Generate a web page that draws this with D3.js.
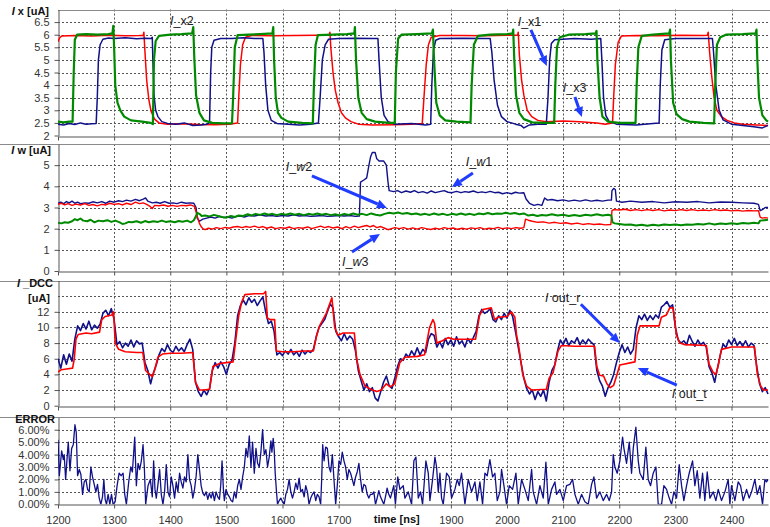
<!DOCTYPE html>
<html>
<head>
<meta charset="utf-8">
<script src="https://cdn.jsdelivr.net/npm/d3@7"></script>
<style>
  body { margin: 0; background: #fff; }
  text { font-family: "Liberation Sans", Arial, sans-serif; }
</style>
</head>
<body>
<svg id="chart" width="770" height="527"></svg>
<script>
// ---------- data ----------
const timeTicks = [1200, 1300, 1400, 1500, 1600, 1700, 1800, 1900, 2000, 2100, 2200, 2300, 2400];
const ixTicks = [2, 2.5, 3, 3.5, 4, 4.5, 5, 5.5, 6, 6.5];
const iwTicks = [0, 1, 2, 3, 4, 5];
const dccTicks = [0, 2, 4, 6, 8, 10, 12];
const errTicks = [0, 1, 2, 3, 4, 5, 6];
const ixGrid = [2.5, 3, 3.5, 4, 4.5, 5, 5.5, 6, 6.5];
const iwGrid = [1, 2, 3, 4, 5];
const dccGrid = [2, 4, 6, 8, 10, 12, 14];
const errGrid = [1, 2, 3, 4, 5, 6];

// I_x1 (ns, uA)
const ix1 = [[1200,2.45],[1210,2.42],[1220,2.48],[1230,2.44],[1240,2.5],[1250,2.45],[1260,2.47],[1268,2.48],[1270,3.5],[1272,5.0],[1275,5.6],[1280,5.82],[1290,5.87],[1300,5.85],[1320,5.88],[1340,5.84],[1355,5.86],[1366,5.85],[1368,5.9],[1369,5.0],[1371,3.6],[1374,3.0],[1378,2.75],[1385,2.55],[1395,2.48],[1410,2.45],[1425,2.5],[1440,2.4],[1455,2.42],[1465,2.45],[1470,2.5],[1472,4.5],[1474,5.5],[1478,5.78],[1490,5.85],[1510,5.85],[1530,5.88],[1550,5.85],[1565,5.85],[1567,5.3],[1570,4.0],[1574,3.0],[1580,2.6],[1590,2.48],[1610,2.45],[1630,2.42],[1650,2.45],[1664,2.5],[1667,3.5],[1671,5.0],[1676,5.6],[1682,5.82],[1700,5.85],[1730,5.86],[1760,5.85],[1770,5.85],[1772,5.0],[1776,3.5],[1781,2.8],[1788,2.55],[1800,2.45],[1830,2.48],[1855,2.42],[1864,2.45],[1866,4.0],[1869,5.4],[1873,5.78],[1880,5.85],[1920,5.86],[1960,5.85],[1970,5.85],[1973,5.3],[1977,4.2],[1983,3.2],[1990,2.75],[2000,2.55],[2008,2.5],[2015,2.45],[2025,2.4],[2030,2.3],[2040,2.42],[2055,2.45],[2070,2.45],[2073,3.5],[2076,5.0],[2079,5.65],[2085,5.8],[2120,5.85],[2150,5.82],[2167,5.85],[2169,5.0],[2172,3.5],[2176,2.8],[2182,2.55],[2195,2.45],[2230,2.42],[2260,2.48],[2271,2.5],[2273,4.0],[2276,5.4],[2281,5.8],[2300,5.85],[2340,5.85],[2366,5.85],[2368,5.3],[2372,4.0],[2378,3.0],[2385,2.62],[2400,2.45],[2420,2.4],[2440,2.35],[2455,2.3],[2465,2.4]];
// I_x2
const ix2 = [[1200,2.55],[1210,2.52],[1220,2.55],[1226,2.55],[1228,4.5],[1230,5.8],[1234,6.0],[1250,6.02],[1270,6.0],[1290,6.02],[1297,6.05],[1298.5,6.35],[1300,5.5],[1302,4.0],[1306,3.3],[1311,3.0],[1318,2.75],[1330,2.6],[1350,2.55],[1365,2.5],[1369,2.45],[1371,5.0],[1374,5.75],[1380,5.95],[1400,6.0],[1420,6.02],[1439,6.05],[1441,6.3],[1443,5.0],[1446,3.6],[1452,2.9],[1460,2.6],[1475,2.5],[1495,2.48],[1510,2.48],[1512,3.5],[1515,5.5],[1520,5.98],[1540,6.0],[1560,6.02],[1582,6.05],[1583.5,6.3],[1585,5.0],[1588,3.5],[1592,2.9],[1598,2.7],[1610,2.55],[1635,2.5],[1654,2.48],[1656,4.0],[1659,5.6],[1663,5.98],[1690,6.0],[1715,6.02],[1728,6.05],[1729,6.3],[1731,5.0],[1735,3.5],[1741,2.9],[1750,2.65],[1765,2.55],[1790,2.5],[1800,2.5],[1802,4.5],[1806,5.85],[1812,6.0],[1840,6.02],[1866,6.05],[1868,6.2],[1870,5.0],[1874,3.3],[1880,2.8],[1890,2.6],[1910,2.55],[1935,2.52],[1937,4.0],[1941,5.6],[1948,5.95],[1970,6.0],[2000,6.02],[2010,6.05],[2011,6.2],[2013,5.0],[2016,3.6],[2022,2.9],[2030,2.65],[2045,2.52],[2065,2.5],[2084,2.5],[2086,4.0],[2089,5.5],[2094,5.9],[2110,6.0],[2140,6.02],[2158,6.05],[2159.5,6.15],[2161,5.0],[2165,3.5],[2170,2.75],[2180,2.55],[2200,2.5],[2229,2.5],[2231,4.0],[2234,5.5],[2240,5.95],[2260,6.0],[2289,6.05],[2290.5,6.2],[2292,5.0],[2296,3.3],[2302,2.85],[2312,2.65],[2325,2.55],[2350,2.5],[2369,2.48],[2371,4.0],[2374,5.6],[2380,5.9],[2390,6.0],[2420,6.02],[2443,6.05],[2444.5,6.2],[2446,5.0],[2449,3.5],[2455,2.8],[2462,2.6],[2465,2.55]];
// I_x3
const ix3 = [[1200,5.72],[1203,5.88],[1207,5.95],[1230,5.97],[1260,5.95],[1290,5.98],[1320,5.96],[1345,5.97],[1352,5.98],[1353,6.1],[1355,5.3],[1358,4.2],[1362,3.4],[1366,2.95],[1372,2.65],[1380,2.5],[1395,2.45],[1420,2.47],[1450,2.44],[1480,2.43],[1505,2.45],[1520,2.5],[1522,3.5],[1525,4.8],[1529,5.6],[1534,5.9],[1545,5.97],[1580,5.96],[1620,5.97],[1660,5.98],[1683,5.98],[1684.5,6.1],[1686,5.5],[1690,4.5],[1694,3.8],[1699,3.3],[1705,2.9],[1712,2.7],[1722,2.55],[1735,2.45],[1760,2.42],[1800,2.43],[1830,2.45],[1849,2.48],[1852,3.5],[1856,4.8],[1860,5.6],[1865,5.9],[1880,5.97],[1920,5.97],[1960,5.96],[2000,5.98],[2019,5.98],[2020,6.1],[2022,5.2],[2026,4.2],[2030,3.6],[2036,3.0],[2044,2.75],[2055,2.6],[2070,2.55],[2100,2.58],[2130,2.55],[2160,2.5],[2175,2.45],[2188,2.5],[2190,3.5],[2193,4.8],[2198,5.7],[2204,5.95],[2230,5.97],[2270,5.96],[2310,5.98],[2350,5.97],[2357,5.98],[2358.5,6.1],[2361,5.3],[2365,4.3],[2369,3.5],[2374,3.0],[2382,2.75],[2392,2.6],[2405,2.5],[2420,2.45],[2445,2.42],[2465,2.4]];

// I_w1, I_w2, I_w3 (ns, uA)
const iw1 = [[1200,3.2],[1205,3.25],[1210,3.18],[1215,3.28],[1220,3.22],[1225,3.3],[1230,3.2],[1235,3.25],[1240,3.18],[1248,3.22],[1255,3.2],[1262,3.27],[1270,3.22],[1278,3.28],[1285,3.2],[1292,3.3],[1300,3.25],[1308,3.32],[1315,3.28],[1322,3.35],[1330,3.3],[1338,3.38],[1345,3.32],[1352,3.4],[1356,3.45],[1360,3.3],[1368,3.22],[1375,3.25],[1382,3.2],[1390,3.28],[1398,3.2],[1405,3.22],[1412,3.18],[1420,3.25],[1428,3.2],[1435,3.22],[1442,3.2],[1446,3.0],[1448,2.5],[1452,2.35],[1458,2.45],[1465,2.5],[1472,2.55],[1480,2.5],[1488,2.58],[1495,2.52],[1502,2.55],[1510,2.5],[1518,2.58],[1525,2.6],[1532,2.55],[1540,2.62],[1550,2.6],[1560,2.65],[1570,2.6],[1580,2.62],[1590,2.58],[1600,2.62],[1610,2.6],[1620,2.65],[1630,2.6],[1640,2.62],[1650,2.58],[1660,2.6],[1670,2.62],[1680,2.58],[1690,2.6],[1700,2.62],[1710,2.6],[1720,2.62],[1730,2.58],[1737,2.6],[1739,4.2],[1745,4.3],[1750,4.4],[1754,5.0],[1757,5.4],[1760,5.6],[1765,5.6],[1768,5.3],[1772,5.2],[1780,5.2],[1785,5.0],[1788,4.2],[1790,3.8],[1798,3.75],[1805,3.8],[1812,3.7],[1820,3.78],[1828,3.72],[1835,3.8],[1842,3.7],[1850,3.75],[1858,3.68],[1865,3.78],[1872,3.7],[1880,3.75],[1888,3.8],[1895,3.72],[1902,3.7],[1910,3.76],[1918,3.7],[1925,3.75],[1932,3.72],[1940,3.78],[1948,3.7],[1955,3.74],[1962,3.7],[1970,3.76],[1978,3.7],[1985,3.72],[1992,3.65],[2000,3.7],[2008,3.65],[2015,3.72],[2022,3.68],[2030,3.7],[2034,3.4],[2040,3.2],[2048,3.1],[2055,3.15],[2062,3.1],[2067,3.45],[2072,3.35],[2080,3.38],[2090,3.32],[2100,3.36],[2110,3.3],[2120,3.35],[2130,3.3],[2140,3.36],[2150,3.3],[2160,3.34],[2170,3.3],[2180,3.35],[2186,3.35],[2187,3.8],[2190,3.9],[2193,3.85],[2195,3.3],[2205,3.25],[2220,3.3],[2240,3.25],[2260,3.28],[2280,3.22],[2300,3.27],[2320,3.25],[2340,3.28],[2360,3.22],[2380,3.26],[2400,3.25],[2420,3.22],[2440,3.2],[2448,3.15],[2451,2.85],[2455,2.9],[2460,3.0],[2465,3.0]];
const iw2 = [[1200,2.28],[1206,2.25],[1212,2.3],[1218,2.28],[1225,2.35],[1230,2.45],[1235,2.4],[1240,2.48],[1245,2.38],[1252,2.35],[1258,2.42],[1265,2.3],[1272,2.38],[1280,2.35],[1288,2.4],[1295,2.32],[1302,2.38],[1310,2.3],[1315,2.22],[1320,2.25],[1326,2.32],[1332,2.3],[1340,2.35],[1348,2.28],[1355,2.36],[1362,2.3],[1370,2.35],[1378,2.32],[1385,2.38],[1392,2.32],[1400,2.35],[1408,2.3],[1415,2.36],[1422,2.33],[1430,2.38],[1437,2.3],[1442,2.4],[1445,2.55],[1448,2.75],[1452,2.7],[1456,2.6],[1462,2.62],[1470,2.58],[1478,2.65],[1485,2.6],[1492,2.55],[1500,2.52],[1508,2.6],[1515,2.55],[1522,2.62],[1530,2.6],[1538,2.68],[1545,2.62],[1552,2.7],[1560,2.65],[1568,2.72],[1575,2.66],[1582,2.7],[1590,2.64],[1598,2.7],[1606,2.66],[1614,2.72],[1622,2.66],[1630,2.7],[1638,2.64],[1646,2.7],[1654,2.66],[1662,2.72],[1670,2.66],[1678,2.7],[1686,2.64],[1694,2.68],[1702,2.62],[1710,2.7],[1718,2.65],[1726,2.72],[1734,2.66],[1742,2.7],[1750,2.64],[1758,2.72],[1766,2.66],[1774,2.62],[1782,2.7],[1790,2.75],[1798,2.72],[1806,2.76],[1814,2.7],[1822,2.74],[1830,2.68],[1838,2.72],[1846,2.66],[1854,2.7],[1862,2.65],[1870,2.72],[1878,2.66],[1886,2.7],[1894,2.64],[1902,2.7],[1910,2.66],[1918,2.72],[1926,2.66],[1934,2.7],[1942,2.65],[1950,2.72],[1958,2.68],[1966,2.74],[1974,2.68],[1982,2.72],[1990,2.7],[1998,2.75],[2006,2.7],[2014,2.74],[2022,2.68],[2030,2.72],[2038,2.62],[2046,2.66],[2054,2.6],[2062,2.65],[2070,2.62],[2080,2.68],[2090,2.62],[2100,2.66],[2110,2.6],[2120,2.65],[2130,2.6],[2140,2.66],[2150,2.62],[2160,2.68],[2170,2.62],[2180,2.66],[2186,2.62],[2188,2.3],[2192,2.25],[2200,2.22],[2210,2.18],[2220,2.2],[2230,2.15],[2240,2.18],[2250,2.14],[2260,2.18],[2270,2.15],[2280,2.2],[2290,2.17],[2300,2.2],[2310,2.16],[2320,2.2],[2330,2.18],[2340,2.22],[2350,2.2],[2360,2.25],[2370,2.2],[2380,2.24],[2390,2.22],[2400,2.26],[2410,2.22],[2420,2.27],[2430,2.24],[2440,2.28],[2448,2.25],[2451,2.38],[2458,2.4],[2465,2.42]];
const iw3 = [[1200,3.15],[1206,3.2],[1212,3.12],[1218,3.18],[1225,3.1],[1232,3.16],[1240,3.12],[1248,3.18],[1255,3.1],[1262,3.14],[1270,3.08],[1278,3.15],[1285,3.12],[1292,3.2],[1300,3.15],[1308,3.18],[1315,3.12],[1322,3.2],[1330,3.14],[1338,3.25],[1345,3.18],[1352,3.22],[1358,3.15],[1364,3.05],[1368,2.95],[1372,3.1],[1380,3.08],[1388,3.12],[1396,3.06],[1404,3.1],[1412,3.05],[1420,3.1],[1428,3.08],[1436,3.12],[1443,3.05],[1446,2.8],[1449,2.5],[1452,2.25],[1455,2.1],[1458,2.0],[1462,1.95],[1468,2.02],[1475,1.98],[1482,2.05],[1490,2.0],[1498,2.06],[1505,2.02],[1512,2.08],[1520,2.1],[1528,2.05],[1535,2.1],[1542,2.06],[1550,2.12],[1558,2.05],[1565,2.1],[1572,2.02],[1580,2.08],[1588,2.0],[1596,2.05],[1605,2.02],[1612,2.08],[1620,2.0],[1628,2.05],[1636,2.02],[1645,2.08],[1652,2.0],[1660,2.06],[1668,2.12],[1675,2.05],[1682,2.1],[1690,2.03],[1698,2.08],[1706,2.0],[1713,2.1],[1720,2.03],[1728,2.12],[1735,2.05],[1742,2.1],[1750,2.15],[1756,2.08],[1762,2.15],[1768,2.05],[1775,2.1],[1782,2.02],[1788,1.95],[1794,2.0],[1800,2.05],[1808,2.0],[1816,2.05],[1824,1.98],[1832,2.04],[1840,1.98],[1848,2.05],[1856,2.0],[1864,1.96],[1872,2.02],[1880,1.98],[1888,2.05],[1896,2.0],[1904,2.03],[1912,1.97],[1920,2.02],[1928,1.98],[1936,2.04],[1944,2.0],[1952,2.05],[1960,1.98],[1968,2.02],[1976,2.0],[1984,2.06],[1992,2.0],[2000,2.04],[2008,2.0],[2016,2.05],[2024,2.02],[2030,2.05],[2033,2.45],[2038,2.4],[2045,2.35],[2055,2.3],[2065,2.32],[2075,2.26],[2085,2.3],[2095,2.25],[2105,2.28],[2115,2.22],[2125,2.26],[2135,2.2],[2145,2.24],[2155,2.2],[2165,2.22],[2175,2.18],[2185,2.2],[2187,2.85],[2190,2.9],[2200,2.88],[2210,2.92],[2220,2.86],[2230,2.9],[2240,2.85],[2250,2.9],[2260,2.86],[2270,2.9],[2280,2.84],[2290,2.88],[2300,2.85],[2310,2.9],[2320,2.86],[2330,2.9],[2340,2.85],[2350,2.88],[2360,2.85],[2370,2.9],[2380,2.86],[2390,2.88],[2400,2.84],[2410,2.87],[2420,2.83],[2430,2.86],[2440,2.84],[2448,2.85],[2451,2.55],[2455,2.5],[2460,2.52],[2465,2.5]];

// I out_r, sampled every 5 ns from 1200 ns (uA)
const outRTimes = d3.range(1200, 2466, 5);
const outR = [
  6.0,4.8,6.5,5.3,6.6,5.7,8.5,10.2,9.6,10.5,9.8,10.8,9.7,10.3,9.9,10.4,11.8,12.2,11.5,12.4,
  11.0,7.8,8.2,7.4,8.0,7.6,8.4,7.5,8.3,7.9,8.0,5.5,4.5,2.8,4.2,5.2,6.5,7.3,6.9,7.8,
  7.1,6.8,7.6,7.0,7.4,6.9,7.8,8.5,7.2,3.0,1.8,1.2,2.0,1.4,2.2,4.5,5.5,4.8,5.6,5.0,
  4.0,5.3,5.8,8.0,11.5,12.8,13.5,12.9,13.8,13.2,13.6,12.8,13.4,13.9,12.0,10.5,10.8,9.5,6.5,6.8,
  6.4,7.0,6.6,7.2,6.5,6.9,6.3,7.1,6.6,7.0,6.8,7.2,8.8,10.0,10.5,11.0,12.0,13.0,12.5,9.5,
  8.8,8.3,9.2,8.4,8.9,8.5,7.0,4.5,3.2,2.0,2.8,1.8,2.3,1.0,0.6,1.8,3.0,3.8,2.6,2.2,
  3.5,5.0,6.0,5.8,6.6,6.2,7.0,6.4,7.4,6.5,7.2,6.8,8.5,9.2,9.0,7.5,8.2,7.4,8.6,7.8,
  8.4,7.6,8.8,7.9,8.3,7.5,8.6,8.0,8.7,9.5,11.5,12.3,11.8,12.0,12.4,11.0,10.7,11.5,11.0,11.8,
  11.2,12.2,11.4,9.5,7.5,5.5,3.5,2.2,1.5,2.0,0.8,1.8,1.2,2.0,0.6,3.0,4.5,5.2,7.0,8.4,
  7.8,8.6,7.7,8.3,8.0,8.7,7.8,8.4,7.9,8.5,8.1,7.8,4.5,3.2,2.5,1.2,2.3,3.0,4.0,5.5,
  6.8,7.8,6.8,7.5,6.6,7.2,10.0,11.5,11.0,11.7,10.9,11.5,11.0,11.6,11.2,12.6,12.9,13.3,12.6,12.9,
  10.0,8.4,8.0,8.3,7.8,9.0,8.2,7.6,8.4,7.8,8.1,7.5,5.0,4.2,3.0,4.8,6.5,7.9,7.4,8.4,
  7.8,8.6,7.7,8.2,7.6,8.3,7.5,8.0,7.7,5.0,2.8,1.8,2.3,1.5
];
// I out_t (ns, uA)
const outT = [[1200,4.3],[1206,4.6],[1215,4.7],[1226,4.8],[1229,6.0],[1232,8.5],[1236,9.1],[1250,9.3],[1260,9.2],[1274,9.4],[1278,11.0],[1284,11.4],[1296,11.6],[1299,12.0],[1302,8.0],[1308,7.2],[1320,6.9],[1340,6.8],[1351,6.8],[1356,4.5],[1362,4.1],[1368,3.7],[1372,4.5],[1378,6.2],[1386,6.6],[1400,6.7],[1420,6.7],[1440,6.8],[1445,3.0],[1452,2.0],[1460,2.0],[1470,2.1],[1476,5.0],[1488,5.4],[1500,5.5],[1512,5.6],[1516,8.0],[1522,11.5],[1527,13.2],[1533,14.2],[1550,14.3],[1566,14.3],[1570,14.6],[1573,11.2],[1578,11.0],[1586,11.0],[1589,7.0],[1600,6.9],[1620,6.9],[1640,7.0],[1655,7.0],[1661,9.0],[1666,10.2],[1678,11.8],[1685,13.2],[1688,13.8],[1693,10.0],[1699,9.0],[1708,9.3],[1728,9.3],[1732,6.0],[1738,4.0],[1747,2.5],[1760,2.0],[1768,1.8],[1776,2.0],[1785,2.8],[1792,2.4],[1800,2.8],[1809,5.5],[1818,6.2],[1840,6.3],[1853,6.5],[1862,10.0],[1868,11.0],[1871,10.5],[1875,8.0],[1885,8.3],[1895,8.7],[1905,8.5],[1944,8.5],[1951,11.5],[1957,12.3],[1972,12.5],[1978,11.0],[1984,11.3],[2000,11.4],[2008,12.0],[2014,11.3],[2017,9.0],[2020,8.0],[2024,6.0],[2028,4.0],[2035,2.5],[2044,2.0],[2070,2.1],[2075,3.5],[2082,4.2],[2091,7.0],[2097,7.7],[2120,7.6],[2156,7.6],[2160,5.0],[2165,3.9],[2172,3.8],[2178,2.8],[2184,2.3],[2190,2.6],[2196,4.0],[2201,5.2],[2228,5.6],[2232,9.0],[2237,10.2],[2271,10.2],[2275,11.3],[2284,11.6],[2290,12.5],[2296,12.5],[2302,9.0],[2308,8.0],[2317,7.8],[2355,7.7],[2360,5.3],[2367,4.3],[2372,4.0],[2376,5.0],[2382,7.2],[2400,7.5],[2441,7.5],[2446,4.0],[2452,2.5],[2457,2.0],[2465,2.0]];

// ERROR (ns, %)
const errData = [[1200,5.2],[1202.4,2.3],[1206.5,4.3],[1209.5,3.6],[1211,4.0],[1213.6,2.0],[1216.6,4.0],[1218.3,5.0],[1221.3,2.7],[1224.3,4.5],[1227.2,4.8],[1230.2,6.4],[1232.5,5.8],[1234.9,2.3],[1237.9,2.8],[1240.8,2.4],[1243.8,0.8],[1246.7,1.8],[1249.7,2.0],[1252.7,1.2],[1255.6,1.0],[1258.6,3.0],[1261.5,2.2],[1264.5,1.6],[1267.5,1.0],[1270.4,1.6],[1273.4,0.5],[1276.3,0],[1279.3,0.6],[1281.7,2.0],[1284,0.4],[1286.4,0],[1289.3,0.8],[1292.3,0],[1295.3,0.8],[1298.2,0],[1301.8,0.2],[1305.3,1.5],[1308.9,2.5],[1312.4,2.3],[1316,2.5],[1318.9,0.8],[1321.9,0],[1326,1.8],[1329.6,3.0],[1332.5,2.6],[1336.7,5.4],[1339.6,1.5],[1342.6,3.3],[1345.6,2.8],[1348.5,3.5],[1351.5,4.8],[1353.8,3.0],[1356.2,0],[1360.4,1.5],[1364.5,2.0],[1368,0.6],[1370.4,3.5],[1372.8,1.2],[1375.1,0.5],[1378.1,1.6],[1381.1,2.8],[1384,0.8],[1387,0],[1389.9,1.0],[1392.9,3.2],[1395.9,1.0],[1398.8,0.6],[1401.8,2.2],[1404.7,1.5],[1407.7,0.5],[1410.7,1.8],[1413.6,1.0],[1416.6,2.5],[1419.5,1.8],[1422.5,1.3],[1425.4,2.2],[1428.4,1.8],[1431.4,4.0],[1434.3,2.0],[1437.3,1.5],[1440.2,0.5],[1443.2,1.2],[1446.2,2.3],[1449.1,4.0],[1452.1,2.8],[1455,1.5],[1458,0.9],[1461,0.7],[1463.9,1.0],[1466.9,0.4],[1469.8,0.9],[1472.8,0.5],[1475.7,1.0],[1478.7,0.3],[1481.7,1.0],[1484.6,0.6],[1487.6,0.4],[1489.9,1.5],[1492.3,3.5],[1494.7,1.2],[1496.4,0.3],[1499.4,1.2],[1502.4,0.8],[1505.3,0.6],[1508.3,0.3],[1511.2,0.2],[1514.2,1.0],[1517.2,0.5],[1520.1,1.5],[1523.1,2.0],[1526,1.2],[1529,2.2],[1532,3.0],[1534.9,4.5],[1537.9,3.8],[1540.8,5.5],[1543.8,3.0],[1546.7,5.0],[1549.7,2.5],[1552.7,4.5],[1555.6,3.3],[1558.6,3.0],[1561.5,4.2],[1564.5,6.0],[1567.5,4.0],[1570.4,4.4],[1573.4,3.0],[1576.3,3.8],[1579.3,5.1],[1581.1,4.2],[1583.4,5.3],[1585.2,4.4],[1587,2.5],[1589.3,1.0],[1591.1,0],[1594.1,0.3],[1597,0.5],[1600,0.2],[1603,0],[1605.9,0.8],[1608.9,1.2],[1611.8,2.0],[1614.8,1.0],[1617.8,0.5],[1620.7,1.0],[1623.7,1.7],[1626.6,1.2],[1629.6,2.1],[1632.5,1.0],[1635.5,1.2],[1638.5,0.6],[1641.4,1.5],[1644.4,1.0],[1647.3,0],[1650.3,0.5],[1653.3,0.8],[1656.2,1.0],[1659.2,0.3],[1662.1,0.8],[1665.1,0.6],[1668,0],[1669.8,2.0],[1671.6,4.8],[1674,3.5],[1676.9,4.6],[1679.9,4.5],[1682.8,3.0],[1685.8,2.6],[1688.8,4.0],[1691.7,2.0],[1694.7,0],[1697.6,1.5],[1700.6,3.5],[1703.6,3.2],[1706.5,4.2],[1709.5,3.5],[1712.4,3.0],[1715.4,2.0],[1718.3,2.8],[1721.3,2.5],[1724.3,2.0],[1727.2,1.5],[1730.2,2.2],[1733.1,2.6],[1736.1,3.3],[1739.1,2.0],[1742,1.0],[1745,1.6],[1747.9,1.5],[1750.9,0.8],[1753.8,0.5],[1756.8,0.8],[1759.8,0.8],[1762.7,1.0],[1765.7,0],[1768.6,0.5],[1771.6,1.1],[1774.6,0.6],[1777.5,0.3],[1780.5,0],[1783.4,0.6],[1786.4,1.3],[1789.3,0.8],[1792.3,0.5],[1795.3,1.0],[1798.2,1.5],[1801.2,0],[1805.3,2.2],[1809.2,1.2],[1815.1,1.5],[1818.1,0.5],[1824,1.0],[1830,0],[1834.1,3.5],[1837.7,3.8],[1841.9,0.5],[1846,1.0],[1849.6,0],[1855.5,3.5],[1859.7,2.5],[1862.6,0.3],[1867.4,2.0],[1871.6,3.8],[1874.5,3.0],[1877.5,1.0],[1880.5,2.5],[1883.4,0.5],[1886.4,0],[1892.3,2.5],[1897.1,2.2],[1901.2,0.5],[1907.2,1.2],[1911.3,2.0],[1914.9,1.5],[1919,2.5],[1925,0],[1931,2.0],[1936.9,1.0],[1942.8,1.8],[1947,0.3],[1951.7,1.8],[1956.5,0],[1960.6,2.5],[1964.8,2.3],[1969.5,3.6],[1974.3,2.2],[1978.4,2.5],[1982.6,0.3],[1987.4,1.0],[1990.3,2.8],[1994.5,1.5],[1999.2,0],[2004,1.5],[2009.9,1.2],[2015.9,2.5],[2020,0],[2026,2.0],[2031.9,1.2],[2037.8,0.3],[2043.8,2.8],[2046.7,1.0],[2052.7,0],[2058.6,1.5],[2064.5,0.5],[2069.3,3.4],[2073.5,0],[2079.4,1.2],[2085.3,1.8],[2088.3,0.8],[2094.2,1.2],[2100.2,0.3],[2106.1,1.5],[2112,1.6],[2116.8,2.0],[2121,0.8],[2126.9,0],[2132.8,0.8],[2138.8,0.2],[2144.7,0],[2150.7,1.6],[2154.8,2.2],[2159.6,0.5],[2165.5,1.0],[2171.4,0.3],[2177.4,0.8],[2182.1,0.3],[2186.3,1.0],[2189.3,4.0],[2192.2,3.0],[2196.4,2.5],[2201.1,3.5],[2205.9,5.4],[2208.3,4.5],[2213,3.3],[2217.8,5.0],[2221.9,2.5],[2224.9,4.5],[2229.6,6.2],[2233.8,3.5],[2236.8,2.5],[2242.7,2.0],[2247.4,4.6],[2251.6,2.0],[2255.8,1.5],[2260.5,2.5],[2265.3,3.0],[2269.4,0],[2275.4,0],[2279.5,1.5],[2284.3,1.2],[2289,0.5],[2293.2,0],[2297.3,1.0],[2302.1,0.5],[2306.8,3.2],[2311,1.5],[2315.1,0.3],[2319.9,1.5],[2324.6,2.5],[2330.6,3.5],[2334.7,1.5],[2338.9,2.7],[2343.6,0.5],[2348.4,2.5],[2352.5,0.3],[2356.7,2.6],[2361.5,0.5],[2367.4,1.0],[2372.1,0.3],[2376.3,1.2],[2382.2,0.3],[2388.2,1.0],[2394.1,2.0],[2397.1,0],[2400,1.5],[2406,0.3],[2411.9,1.8],[2416.1,1.5],[2420.8,0.3],[2426.8,1.2],[2431.5,0.5],[2435.7,1.0],[2441.6,2.0],[2445.8,0.8],[2450.5,1.5],[2455.3,0],[2459.4,2.0],[2462.4,1.8],[2465,2.0]];

// ---------- layout ----------
const W = 770, H = 527;
const left = 58, right = 768;
const NAVY = "#10108a", RED = "#ff0000", GREEN = "#008a00", ARROW = "#1f3cff";
const GRID = "#555", FRAME = "#8a8a8a", AXIS = "#555";

const svg = d3.select("#chart");
const x = d3.scaleLinear().domain([1200, 2465]).range([left, right]);

const panels = [
  { id: "ix",  domain: [2, 7],  range: [135.5, 9.5],  ticks: ixTicks,  grid: ixGrid,  fmt: d => String(d), sepLeft: left },
  { id: "iw",  domain: [0, 6],  range: [271, 144],    ticks: iwTicks,  grid: iwGrid,  fmt: d => String(d), sepLeft: 0 },
  { id: "dcc", domain: [0, 16], range: [405.7, 280.5], ticks: dccTicks, grid: dccGrid, fmt: d => String(d), sepLeft: 0 },
  { id: "err", domain: [0, 7],  range: [504.3, 417.3], ticks: errTicks, grid: errGrid, fmt: d => d.toFixed(2) + "%", sepLeft: 0 }
];
panels.forEach(p => { p.y = d3.scaleLinear().domain(p.domain).range(p.range); });

const defs = svg.append("defs");

panels.forEach((p, i) => {
  const g = svg.append("g").attr("class", "panel-" + p.id);
  const yTop = p.range[1], yBot = p.range[0];

  defs.append("clipPath").attr("id", "clip-" + p.id)
    .append("rect").attr("x", left).attr("y", yTop - 2).attr("width", right - left + 2).attr("height", yBot - yTop + 2);

  // horizontal grid
  g.append("g").selectAll("line").data(p.grid).join("line")
    .attr("x1", left).attr("x2", right)
    .attr("y1", d => Math.round(p.y(d)) + 0.5).attr("y2", d => Math.round(p.y(d)) + 0.5)
    .attr("stroke", GRID).attr("stroke-width", 1).attr("stroke-dasharray", "2,2");

  // vertical grid
  g.append("g").selectAll("line").data(timeTicks.slice(1)).join("line")
    .attr("x1", d => Math.round(x(d)) + 0.5).attr("x2", d => Math.round(x(d)) + 0.5)
    .attr("y1", yTop).attr("y2", yBot)
    .attr("stroke", GRID).attr("stroke-width", 1).attr("stroke-dasharray", "2,2");

  // top frame line
  g.append("line").attr("x1", p.sepLeft).attr("x2", W)
    .attr("y1", Math.round(yTop) + 0.5).attr("y2", Math.round(yTop) + 0.5)
    .attr("stroke", FRAME).attr("stroke-width", 1.2);

  // y axis
  const ya = g.append("g").attr("transform", `translate(${left + 0.5},0)`)
    .call(d3.axisLeft(p.y).tickValues(p.ticks).tickSize(4).tickSizeOuter(0).tickPadding(5).tickFormat(p.fmt));
  ya.select(".domain").attr("stroke", AXIS);
  ya.selectAll(".tick line").attr("stroke", AXIS);
  ya.selectAll("text").attr("font-size", 11).attr("fill", "#333")
    .attr("font-family", "'Liberation Sans', Arial, sans-serif");

  // x axis (labels only on the bottom panel)
  const last = i === panels.length - 1;
  const xa = g.append("g").attr("transform", `translate(0,${Math.round(yBot) + 0.5})`)
    .call(d3.axisBottom(x).tickValues(timeTicks).tickSize(4).tickSizeOuter(0).tickPadding(8)
      .tickFormat(d => (last && d !== 1800) ? String(d) : ""));
  xa.select(".domain").attr("stroke", AXIS).attr("stroke-width", 1.1);
  xa.selectAll(".tick line").attr("stroke", AXIS);
  xa.selectAll("text").attr("font-size", 11).attr("fill", "#333")
    .attr("font-family", "'Liberation Sans', Arial, sans-serif");
});

// ---------- series ----------
function drawLine(panelId, data, color, width) {
  const p = panels.find(q => q.id === panelId);
  const line = d3.line().x(d => x(d[0])).y(d => p.y(d[1]));
  svg.append("path").datum(data)
    .attr("clip-path", `url(#clip-${panelId})`)
    .attr("d", line).attr("fill", "none")
    .attr("stroke", color).attr("stroke-width", width)
    .attr("stroke-linejoin", "round");
}

drawLine("ix", ix3, RED, 1.5);
drawLine("ix", ix1, NAVY, 1.5);
drawLine("ix", ix2, GREEN, 2.2);

drawLine("iw", iw1, NAVY, 1.4);
drawLine("iw", iw3, RED, 1.4);
drawLine("iw", iw2, GREEN, 2.0);

const outRPairs = outRTimes.map((t, k) => [t, outR[k]]).filter(d => d[1] !== undefined);
drawLine("dcc", outRPairs, NAVY, 1.6);
drawLine("dcc", outT, RED, 1.6);

drawLine("err", errData, NAVY, 1.3);

// ---------- axis titles ----------
function title(parts, xEnd, yBase, anchor) {
  const t = svg.append("text").attr("x", xEnd).attr("y", yBase)
    .attr("text-anchor", anchor || "end").attr("font-size", 11).attr("font-weight", "bold").attr("fill", "#111");
  parts.forEach(pt => t.append("tspan").text(pt[0]).attr("font-style", pt[1] ? "italic" : "normal"));
}
title([["I", true], [" x [uA]", false]], 49, 15);
title([["I", true], [" w [uA]", false]], 51, 154);
title([["I", true], [" _DCC", false]], 53, 287);
title([["[uA]", false]], 50, 302);
title([["ERROR", false]], 55, 423);
title([["time [ns]", false]], x(1800) + 2, 523, "middle");

// ---------- annotations ----------
const notes = [
  { panel: "ix",  parts: [["I", true], ["_x2", false]], at: [1399.5, 6.4] },
  { panel: "ix",  parts: [["I", true], ["_x1", false]], at: [2019, 6.35], arrow: [[2042.5, 6.19], [2071, 4.76]] },
  { panel: "ix",  parts: [["I", true], ["_x3", false]], at: [2099.5, 3.73], arrow: [[2121, 3.53], [2133.4, 2.73]] },
  { panel: "iw",  parts: [["I", true], ["_", false], ["w", true], ["2", false]], at: [1606, 4.72], arrow: [[1652.4, 4.49], [1786, 2.98]] },
  { panel: "iw",  parts: [["I", true], ["_", false], ["w", true], ["1", false]], at: [1926.7, 4.96], arrow: [[1939.2, 4.63], [1901.8, 3.97]] },
  { panel: "iw",  parts: [["I", true], ["_", false], ["w", true], ["3", false]], at: [1705.9, 0.24], arrow: [[1723.7, 0.9], [1773.6, 1.75]] },
  { panel: "dcc", parts: [["I", true], [" out_r", false]], at: [2067.5, 13.2], arrow: [[2131.6, 12.97], [2201, 8.0]] },
  { panel: "dcc", parts: [["I", true], [" out_t", false]], at: [2293.7, 0.98], arrow: [[2302.6, 2.64], [2233.1, 4.81]] }
];

notes.forEach(n => {
  const p = panels.find(q => q.id === n.panel);
  const t = svg.append("text").attr("x", x(n.at[0])).attr("y", p.y(n.at[1]))
    .attr("font-size", 12.5).attr("fill", "#222");
  n.parts.forEach(pt => t.append("tspan").text(pt[0]).attr("font-style", pt[1] ? "italic" : "normal"));
  if (n.arrow) {
    const x0 = x(n.arrow[0][0]), y0 = p.y(n.arrow[0][1]);
    const x1 = x(n.arrow[1][0]), y1 = p.y(n.arrow[1][1]);
    const ang = Math.atan2(y1 - y0, x1 - x0);
    const hl = 10, hw = 4.5;
    const bx = x1 - hl * Math.cos(ang), by = y1 - hl * Math.sin(ang);
    svg.append("line").attr("x1", x0).attr("y1", y0).attr("x2", bx).attr("y2", by)
      .attr("stroke", ARROW).attr("stroke-width", 3);
    const px = -Math.sin(ang), py = Math.cos(ang);
    svg.append("path")
      .attr("d", `M${x1},${y1}L${bx + px * hw},${by + py * hw}L${bx - px * hw},${by - py * hw}Z`)
      .attr("fill", ARROW);
  }
});
</script>
</body>
</html>
